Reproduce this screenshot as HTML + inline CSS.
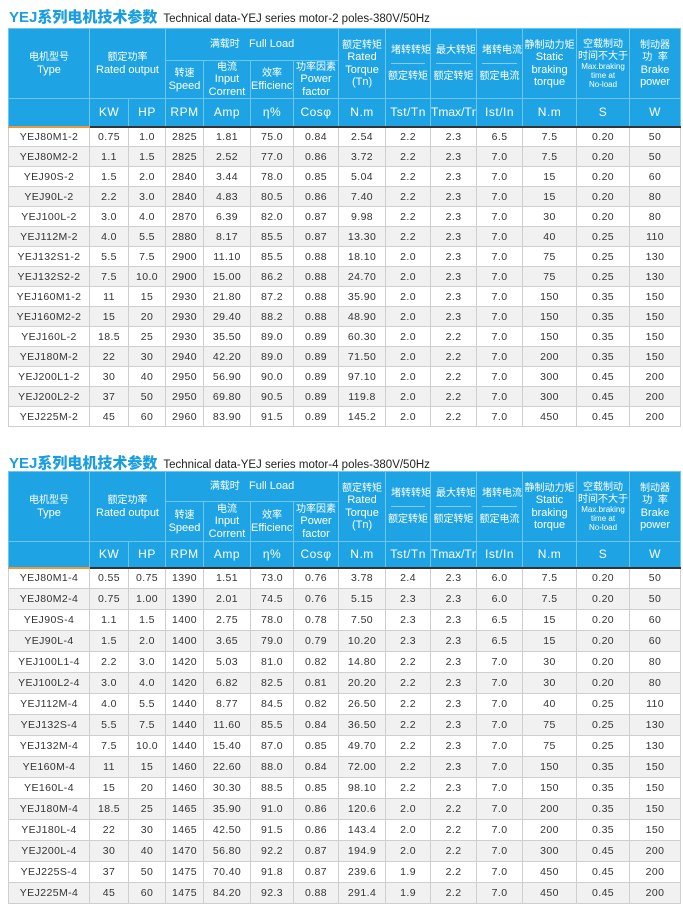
<!DOCTYPE html>
<html><head><meta charset="utf-8">
<style>
*{margin:0;padding:0;box-sizing:border-box}
body{width:683px;height:916px;background:#fff;position:relative;overflow:hidden;font-family:"Liberation Sans","Noto Sans CJK SC",sans-serif}
.title{position:absolute;left:9px;font-size:11.5px;color:#222;white-space:nowrap}
.title b{color:#1a9ee0;font-size:15px;font-weight:900;margin-right:6px}
table{position:absolute;left:8px;width:672px;border-collapse:collapse;table-layout:fixed}
th{background:#1ea4e4;color:#fff;font-weight:normal;border:1px solid #6cc6f0;text-align:center;font-size:11px;line-height:1.1;vertical-align:middle;white-space:nowrap;overflow:hidden}
th .c, th.c{font-size:10px;letter-spacing:0}
th.u{font-size:12px;border-bottom:2px solid #333;letter-spacing:0.5px}
th.u0{border-bottom:2px solid #e89a3c}
td{border:1px solid #cfcfcf;text-align:center;font-size:10.5px;color:#333;vertical-align:middle;letter-spacing:0.4px}
tr.g td{background:#f1f1f1}
th small{font-size:8px;display:block;line-height:1.15}
.split{display:block;border-bottom:1px solid #7fd0f4;margin:0 5px 7px;padding-bottom:7px}
</style></head><body>
<div class="title" style="top:6px"><b>YEJ系列电机技术参数</b>Technical data-YEJ series motor-2 poles-380V/50Hz</div>
<table style="top:28px">
<colgroup><col style="width:81px"><col style="width:39px"><col style="width:37px"><col style="width:38px"><col style="width:47px"><col style="width:43px"><col style="width:45px"><col style="width:47px"><col style="width:45px"><col style="width:46px"><col style="width:46px"><col style="width:54px"><col style="width:53px"><col style="width:51px"></colgroup>
<tr style="height:32px"><th rowspan="2"><span class="c">电机型号</span><br>Type</th><th colspan="2" rowspan="2"><span class="c">额定功率</span><br>Rated output</th><th colspan="4"><span class="c">满载时</span>&nbsp;&nbsp;&nbsp;Full Load</th><th rowspan="2"><span class="c">额定转矩</span><br>Rated<br>Torque<br>(Tn)</th><th rowspan="2" class="c"><span class="split">堵转转矩</span>额定转矩</th><th rowspan="2" class="c"><span class="split">最大转矩</span>额定转矩</th><th rowspan="2" class="c"><span class="split">堵转电流</span>额定电流</th><th rowspan="2"><span class="c">静制动力矩</span><br>Static<br>braking<br>torque</th><th rowspan="2"><span class="c">空载制动<br>时间不大于</span><small>Max.braking<br>time at<br>No-load</small></th><th rowspan="2"><span class="c">制动器<br>功&nbsp;&nbsp;率</span><br>Brake<br>power</th></tr>
<tr style="height:38px"><th><span class="c">转速</span><br>Speed</th><th><span class="c">电流</span><br>Input<br>Corrent</th><th><span class="c">效率</span><br>Efficiency</th><th><span class="c">功率因素</span><br>Power<br>factor</th></tr>
<tr style="height:28px"><th class="u u0"></th><th class="u">KW</th><th class="u">HP</th><th class="u">RPM</th><th class="u">Amp</th><th class="u">η%</th><th class="u">Cosφ</th><th class="u">N.m</th><th class="u">Tst/Tn</th><th class="u" style="letter-spacing:0">Tmax/Tn</th><th class="u">Ist/In</th><th class="u">N.m</th><th class="u">S</th><th class="u">W</th></tr>
<tr style="height:20px"><td>YEJ80M1-2</td><td>0.75</td><td>1.0</td><td>2825</td><td>1.81</td><td>75.0</td><td>0.84</td><td>2.54</td><td>2.2</td><td>2.3</td><td>6.5</td><td>7.5</td><td>0.20</td><td>50</td></tr>
<tr class="g" style="height:20px"><td>YEJ80M2-2</td><td>1.1</td><td>1.5</td><td>2825</td><td>2.52</td><td>77.0</td><td>0.86</td><td>3.72</td><td>2.2</td><td>2.3</td><td>7.0</td><td>7.5</td><td>0.20</td><td>50</td></tr>
<tr style="height:20px"><td>YEJ90S-2</td><td>1.5</td><td>2.0</td><td>2840</td><td>3.44</td><td>78.0</td><td>0.85</td><td>5.04</td><td>2.2</td><td>2.3</td><td>7.0</td><td>15</td><td>0.20</td><td>60</td></tr>
<tr class="g" style="height:20px"><td>YEJ90L-2</td><td>2.2</td><td>3.0</td><td>2840</td><td>4.83</td><td>80.5</td><td>0.86</td><td>7.40</td><td>2.2</td><td>2.3</td><td>7.0</td><td>15</td><td>0.20</td><td>80</td></tr>
<tr style="height:20px"><td>YEJ100L-2</td><td>3.0</td><td>4.0</td><td>2870</td><td>6.39</td><td>82.0</td><td>0.87</td><td>9.98</td><td>2.2</td><td>2.3</td><td>7.0</td><td>30</td><td>0.20</td><td>80</td></tr>
<tr class="g" style="height:20px"><td>YEJ112M-2</td><td>4.0</td><td>5.5</td><td>2880</td><td>8.17</td><td>85.5</td><td>0.87</td><td>13.30</td><td>2.2</td><td>2.3</td><td>7.0</td><td>40</td><td>0.25</td><td>110</td></tr>
<tr style="height:20px"><td>YEJ132S1-2</td><td>5.5</td><td>7.5</td><td>2900</td><td>11.10</td><td>85.5</td><td>0.88</td><td>18.10</td><td>2.0</td><td>2.3</td><td>7.0</td><td>75</td><td>0.25</td><td>130</td></tr>
<tr class="g" style="height:20px"><td>YEJ132S2-2</td><td>7.5</td><td>10.0</td><td>2900</td><td>15.00</td><td>86.2</td><td>0.88</td><td>24.70</td><td>2.0</td><td>2.3</td><td>7.0</td><td>75</td><td>0.25</td><td>130</td></tr>
<tr style="height:20px"><td>YEJ160M1-2</td><td>11</td><td>15</td><td>2930</td><td>21.80</td><td>87.2</td><td>0.88</td><td>35.90</td><td>2.0</td><td>2.3</td><td>7.0</td><td>150</td><td>0.35</td><td>150</td></tr>
<tr class="g" style="height:20px"><td>YEJ160M2-2</td><td>15</td><td>20</td><td>2930</td><td>29.40</td><td>88.2</td><td>0.88</td><td>48.90</td><td>2.0</td><td>2.3</td><td>7.0</td><td>150</td><td>0.35</td><td>150</td></tr>
<tr style="height:20px"><td>YEJ160L-2</td><td>18.5</td><td>25</td><td>2930</td><td>35.50</td><td>89.0</td><td>0.89</td><td>60.30</td><td>2.0</td><td>2.2</td><td>7.0</td><td>150</td><td>0.35</td><td>150</td></tr>
<tr class="g" style="height:20px"><td>YEJ180M-2</td><td>22</td><td>30</td><td>2940</td><td>42.20</td><td>89.0</td><td>0.89</td><td>71.50</td><td>2.0</td><td>2.2</td><td>7.0</td><td>200</td><td>0.35</td><td>150</td></tr>
<tr style="height:20px"><td>YEJ200L1-2</td><td>30</td><td>40</td><td>2950</td><td>56.90</td><td>90.0</td><td>0.89</td><td>97.10</td><td>2.0</td><td>2.2</td><td>7.0</td><td>300</td><td>0.45</td><td>200</td></tr>
<tr class="g" style="height:20px"><td>YEJ200L2-2</td><td>37</td><td>50</td><td>2950</td><td>69.80</td><td>90.5</td><td>0.89</td><td>119.8</td><td>2.0</td><td>2.2</td><td>7.0</td><td>300</td><td>0.45</td><td>200</td></tr>
<tr style="height:20px"><td>YEJ225M-2</td><td>45</td><td>60</td><td>2960</td><td>83.90</td><td>91.5</td><td>0.89</td><td>145.2</td><td>2.0</td><td>2.2</td><td>7.0</td><td>450</td><td>0.45</td><td>200</td></tr>
</table>

<div class="title" style="top:452px"><b>YEJ系列电机技术参数</b>Technical data-YEJ series motor-4 poles-380V/50Hz</div>
<table style="top:471px">
<colgroup><col style="width:81px"><col style="width:39px"><col style="width:37px"><col style="width:38px"><col style="width:47px"><col style="width:43px"><col style="width:45px"><col style="width:47px"><col style="width:45px"><col style="width:46px"><col style="width:46px"><col style="width:54px"><col style="width:53px"><col style="width:51px"></colgroup>
<tr style="height:30px"><th rowspan="2"><span class="c">电机型号</span><br>Type</th><th colspan="2" rowspan="2"><span class="c">额定功率</span><br>Rated output</th><th colspan="4"><span class="c">满载时</span>&nbsp;&nbsp;&nbsp;Full Load</th><th rowspan="2"><span class="c">额定转矩</span><br>Rated<br>Torque<br>(Tn)</th><th rowspan="2" class="c"><span class="split">堵转转矩</span>额定转矩</th><th rowspan="2" class="c"><span class="split">最大转矩</span>额定转矩</th><th rowspan="2" class="c"><span class="split">堵转电流</span>额定电流</th><th rowspan="2"><span class="c">静制动力矩</span><br>Static<br>braking<br>torque</th><th rowspan="2"><span class="c">空载制动<br>时间不大于</span><small>Max.braking<br>time at<br>No-load</small></th><th rowspan="2"><span class="c">制动器<br>功&nbsp;&nbsp;率</span><br>Brake<br>power</th></tr>
<tr style="height:40px"><th><span class="c">转速</span><br>Speed</th><th><span class="c">电流</span><br>Input<br>Corrent</th><th><span class="c">效率</span><br>Efficiency</th><th><span class="c">功率因素</span><br>Power<br>factor</th></tr>
<tr style="height:26px"><th class="u u0"></th><th class="u">KW</th><th class="u">HP</th><th class="u">RPM</th><th class="u">Amp</th><th class="u">η%</th><th class="u">Cosφ</th><th class="u">N.m</th><th class="u">Tst/Tn</th><th class="u" style="letter-spacing:0">Tmax/Tn</th><th class="u">Ist/In</th><th class="u">N.m</th><th class="u">S</th><th class="u">W</th></tr>
<tr style="height:21px"><td>YEJ80M1-4</td><td>0.55</td><td>0.75</td><td>1390</td><td>1.51</td><td>73.0</td><td>0.76</td><td>3.78</td><td>2.4</td><td>2.3</td><td>6.0</td><td>7.5</td><td>0.20</td><td>50</td></tr>
<tr class="g" style="height:21px"><td>YEJ80M2-4</td><td>0.75</td><td>1.00</td><td>1390</td><td>2.01</td><td>74.5</td><td>0.76</td><td>5.15</td><td>2.3</td><td>2.3</td><td>6.0</td><td>7.5</td><td>0.20</td><td>50</td></tr>
<tr style="height:21px"><td>YEJ90S-4</td><td>1.1</td><td>1.5</td><td>1400</td><td>2.75</td><td>78.0</td><td>0.78</td><td>7.50</td><td>2.3</td><td>2.3</td><td>6.5</td><td>15</td><td>0.20</td><td>60</td></tr>
<tr class="g" style="height:21px"><td>YEJ90L-4</td><td>1.5</td><td>2.0</td><td>1400</td><td>3.65</td><td>79.0</td><td>0.79</td><td>10.20</td><td>2.3</td><td>2.3</td><td>6.5</td><td>15</td><td>0.20</td><td>60</td></tr>
<tr style="height:21px"><td>YEJ100L1-4</td><td>2.2</td><td>3.0</td><td>1420</td><td>5.03</td><td>81.0</td><td>0.82</td><td>14.80</td><td>2.2</td><td>2.3</td><td>7.0</td><td>30</td><td>0.20</td><td>80</td></tr>
<tr class="g" style="height:21px"><td>YEJ100L2-4</td><td>3.0</td><td>4.0</td><td>1420</td><td>6.82</td><td>82.5</td><td>0.81</td><td>20.20</td><td>2.2</td><td>2.3</td><td>7.0</td><td>30</td><td>0.20</td><td>80</td></tr>
<tr style="height:21px"><td>YEJ112M-4</td><td>4.0</td><td>5.5</td><td>1440</td><td>8.77</td><td>84.5</td><td>0.82</td><td>26.50</td><td>2.2</td><td>2.3</td><td>7.0</td><td>40</td><td>0.25</td><td>110</td></tr>
<tr class="g" style="height:21px"><td>YEJ132S-4</td><td>5.5</td><td>7.5</td><td>1440</td><td>11.60</td><td>85.5</td><td>0.84</td><td>36.50</td><td>2.2</td><td>2.3</td><td>7.0</td><td>75</td><td>0.25</td><td>130</td></tr>
<tr style="height:21px"><td>YEJ132M-4</td><td>7.5</td><td>10.0</td><td>1440</td><td>15.40</td><td>87.0</td><td>0.85</td><td>49.70</td><td>2.2</td><td>2.3</td><td>7.0</td><td>75</td><td>0.25</td><td>130</td></tr>
<tr class="g" style="height:21px"><td>YE160M-4</td><td>11</td><td>15</td><td>1460</td><td>22.60</td><td>88.0</td><td>0.84</td><td>72.00</td><td>2.2</td><td>2.3</td><td>7.0</td><td>150</td><td>0.35</td><td>150</td></tr>
<tr style="height:21px"><td>YE160L-4</td><td>15</td><td>20</td><td>1460</td><td>30.30</td><td>88.5</td><td>0.85</td><td>98.10</td><td>2.2</td><td>2.3</td><td>7.0</td><td>150</td><td>0.35</td><td>150</td></tr>
<tr class="g" style="height:21px"><td>YEJ180M-4</td><td>18.5</td><td>25</td><td>1465</td><td>35.90</td><td>91.0</td><td>0.86</td><td>120.6</td><td>2.0</td><td>2.2</td><td>7.0</td><td>200</td><td>0.35</td><td>150</td></tr>
<tr style="height:21px"><td>YEJ180L-4</td><td>22</td><td>30</td><td>1465</td><td>42.50</td><td>91.5</td><td>0.86</td><td>143.4</td><td>2.0</td><td>2.2</td><td>7.0</td><td>200</td><td>0.35</td><td>150</td></tr>
<tr class="g" style="height:21px"><td>YEJ200L-4</td><td>30</td><td>40</td><td>1470</td><td>56.80</td><td>92.2</td><td>0.87</td><td>194.9</td><td>2.0</td><td>2.2</td><td>7.0</td><td>300</td><td>0.45</td><td>200</td></tr>
<tr style="height:21px"><td>YEJ225S-4</td><td>37</td><td>50</td><td>1475</td><td>70.40</td><td>91.8</td><td>0.87</td><td>239.6</td><td>1.9</td><td>2.2</td><td>7.0</td><td>450</td><td>0.45</td><td>200</td></tr>
<tr class="g" style="height:21px"><td>YEJ225M-4</td><td>45</td><td>60</td><td>1475</td><td>84.20</td><td>92.3</td><td>0.88</td><td>291.4</td><td>1.9</td><td>2.2</td><td>7.0</td><td>450</td><td>0.45</td><td>200</td></tr>
</table>
</body></html>
